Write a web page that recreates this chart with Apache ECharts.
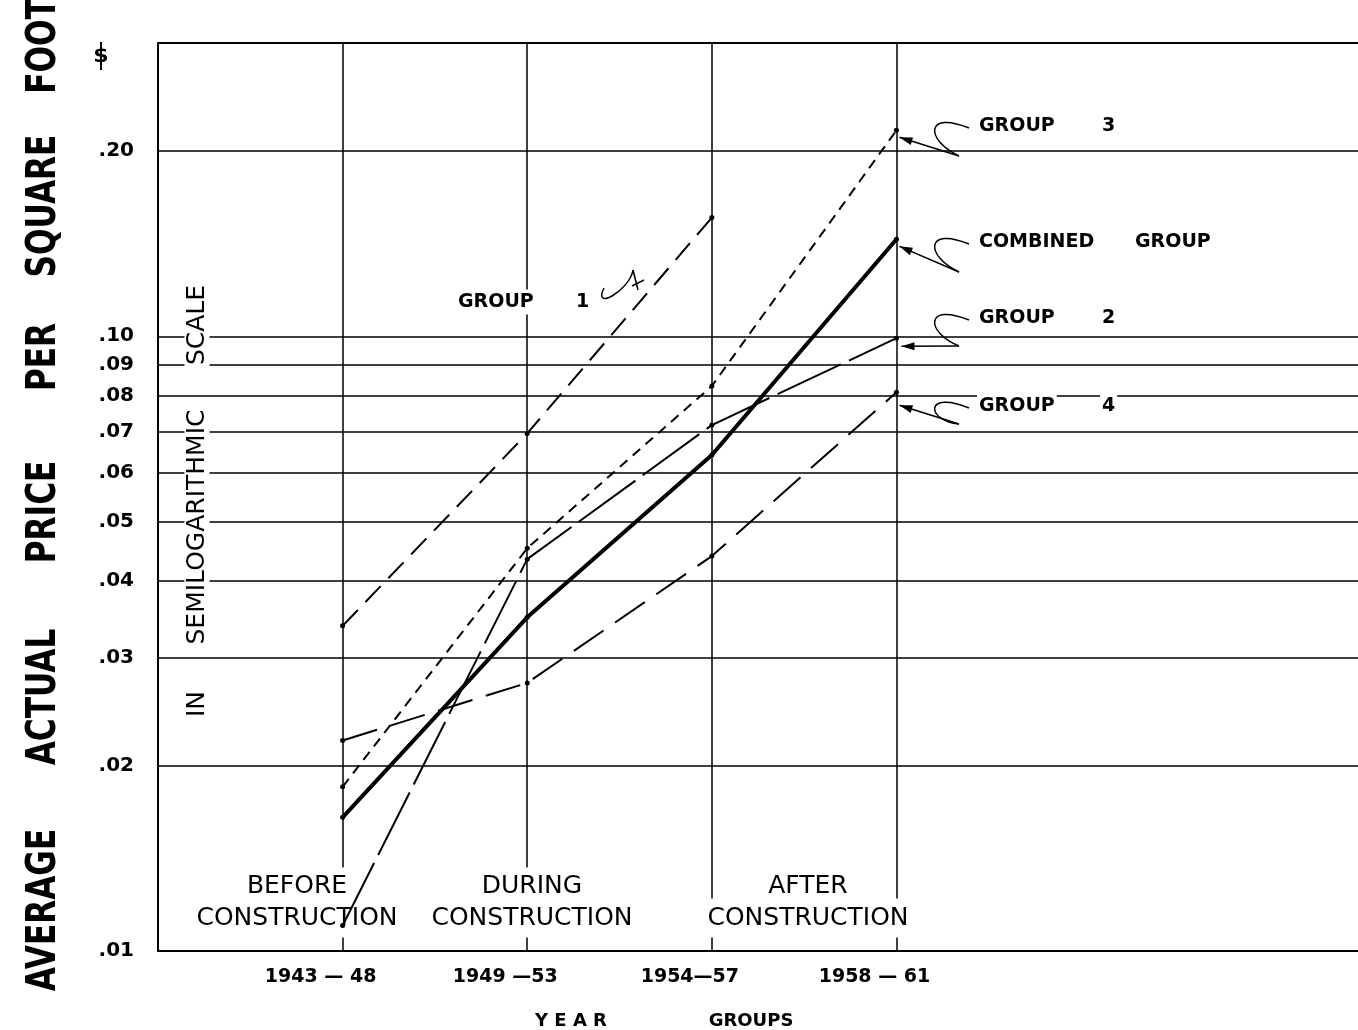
<!DOCTYPE html>
<html><head><meta charset="utf-8">
<script src="https://cdn.jsdelivr.net/npm/echarts/dist/echarts.min.js"></script>
<style>html,body{margin:0;padding:0;background:#fff}#c{width:1358px;height:1030px}</style>
</head><body><div id="c"></div>
<script>
// ---- data ----
const categories = ['1943 — 48', '1949 —53', '1954—57', '1958 — 61'];
const catPos = [1, 2, 3, 4];
const combined = [0.0165, 0.0349, 0.0641, 0.1438];
const group1 = [0.0338, 0.0695, 0.156];
const group2 = [0.0110, 0.0434, 0.0717, 0.0993];
const group3 = [0.0185, 0.0452, 0.0830, 0.2163];
const group4 = [0.0220, 0.0273, 0.0439, 0.0811];
const yTickValues = [0.01, 0.02, 0.03, 0.04, 0.05, 0.06, 0.07, 0.08, 0.09, 0.10, 0.20];
const yTickLabels = ['.01', '.02', '.03', '.04', '.05', '.06', '.07', '.08', '.09', '.10', '.20'];
const yMin = 0.01, yMax = 0.3;
const phaseLabels = [['BEFORE', 'CONSTRUCTION'], ['DURING', 'CONSTRUCTION'], ['AFTER', 'CONSTRUCTION']];
const yTitleWords = ['AVERAGE', 'ACTUAL', 'PRICE', 'PER', 'SQUARE', 'FOOT'];
const scaleNoteWords = ['IN', 'SEMILOGARITHMIC', 'SCALE'];

const pts = arr => arr.map((v, i) => [catPos[i], v]);
const chart = echarts.init(document.getElementById('c'), null, {renderer: 'canvas'});
const FONT = '"DejaVu Sans", "Liberation Sans", sans-serif';

function lineSeries(name, data, width, dash, z) {
  return {
    name, type: 'line', data: pts(data), z: z || 10,
    symbol: 'circle', symbolSize: 5, showSymbol: true,
    itemStyle: {color: '#000'},
    lineStyle: {color: '#000', width, type: dash},
    silent: true
  };
}

const hLines = yTickValues.map((v, i) => ({yAxis: v, label: {formatter: yTickLabels[i]}}));
hLines.push({yAxis: yMax, label: {show: false}, lineStyle: {width: 2}});
const vLines = catPos.map(p => ({xAxis: p, label: {show: false}}));

chart.setOption({
  animation: false,
  backgroundColor: '#fff',
  grid: {left: 158, right: 0, top: 43, bottom: 79},
  xAxis: {
    type: 'value', min: 0, max: 6.5, interval: 1,
    axisLine: {show: true, lineStyle: {color: '#000', width: 2}},
    axisTick: {show: false}, splitLine: {show: false},
    axisLabel: {
      show: true, margin: 17, color: '#000', fontFamily: FONT, fontWeight: 'bold', fontSize: 19,
      padding: [0, 44, 0, 0], showMaxLabel: false,
      formatter: v => { const i = catPos.indexOf(v); return i >= 0 ? categories[i] : ''; }
    }
  },
  yAxis: {
    type: 'log', logBase: 10, min: yMin, max: yMax,
    axisLine: {show: true, lineStyle: {color: '#000', width: 2}},
    axisTick: {show: false}, splitLine: {show: false}, axisLabel: {show: false}
  },
  series: [
    {
      type: 'line', data: [], z: 1, silent: true,
      markLine: {
        z: 1, silent: true, symbol: ['none', 'none'], animation: false,
        lineStyle: {color: '#000', width: 1.5, type: 'solid'},
        label: {position: 'start', distance: 24, color: '#000', fontFamily: FONT, fontWeight: 'bold', fontSize: 20},
        emphasis: {disabled: true},
        data: hLines
      }
    },
    {
      type: 'line', data: [], z: 1, silent: true,
      markLine: {
        z: 1, silent: true, symbol: ['none', 'none'], animation: false,
        lineStyle: {color: '#000', width: 1.5, type: 'solid'},
        emphasis: {disabled: true},
        data: vLines
      }
    },
    lineSeries('Group 1', group1, 2, [22, 11]),
    lineSeries('Group 2', group2, 2, [70, 9]),
    lineSeries('Group 3', group3, 2, [10, 7]),
    lineSeries('Group 4', group4, 2, [36, 14]),
    lineSeries('Combined Group', combined, 4, 'solid', 11)
  ]
});

// ---- annotations ----
const g = [];
function txt(text, x, y, opt) {
  opt = opt || {};
  const el = {
    type: 'text', x, y, z: 4, zlevel: 0,
    rotation: opt.rotation || 0, scaleX: opt.scaleX || 1, scaleY: opt.scaleY || 1,
    silent: true,
    style: {
      text, fill: '#000',
      font: (opt.weight || 'normal') + ' ' + (opt.size || 20) + 'px ' + FONT,
      textAlign: opt.align || 'center', align: opt.align || 'center',
      textVerticalAlign: 'middle', verticalAlign: 'middle'
    }
  };
  if (opt.bg) { el.style.backgroundColor = '#fff'; el.style.padding = opt.pad || [2, 4]; }
  g.push(el);
}

// y-axis title (rotated)
const yTitleCenters = [910, 697, 512, 357, 206, 46];
yTitleWords.forEach((w, i) => txt(w, 45, yTitleCenters[i], {rotation: Math.PI / 2, size: 40, weight: 'bold', scaleX: 0.78}));
// semilog note
const noteCenters = [704, 527, 325];
scaleNoteWords.forEach((w, i) => txt(w, 197, noteCenters[i], {rotation: Math.PI / 2, size: 25, bg: true, pad: [0, 6]}));
// dollar sign
txt('$', 101, 56, {size: 22, weight: 'bold'});
g.push({type: 'line', z: 4, silent: true, shape: {x1: 101, y1: 42, x2: 101, y2: 70}, style: {stroke: '#000', lineWidth: 2}});

// phase labels
const phaseX = [297, 532, 808];
phaseLabels.forEach((p, i) => {
  txt(p[0], phaseX[i], 886, {size: 25, bg: true, pad: [6, 2, 6, 2]});
  txt(p[1], phaseX[i], 918, {size: 25, bg: true, pad: [6, 2, 8, 2]});
});
// x-axis title
txt('Y E A R', 571, 1021, {size: 18, weight: 'bold'});
txt('GROUPS', 751, 1021, {size: 18, weight: 'bold'});

// group labels
function glabel(word, num, lx, ly, numX) {
  txt(word, lx, ly, {size: 19, weight: 'bold', align: 'left', bg: true, pad: [3, 2]});
  txt(num, numX, ly, {size: 19, weight: 'bold', align: 'left', bg: true, pad: [3, 2]});
}
glabel('GROUP', '3', 977, 126, 1100);
glabel('COMBINED', 'GROUP', 977, 242, 1133);
glabel('GROUP', '2', 977, 318, 1100);
glabel('GROUP', '4', 977, 406, 1100);
glabel('GROUP', '1', 456, 302, 574);

function arrowHead(tx, ty, fx, fy) {
  const dx = tx - fx, dy = ty - fy, L = Math.hypot(dx, dy);
  const ux = dx / L, uy = dy / L, nx = -uy, ny = ux;
  g.push({type: 'polygon', z: 5, silent: true,
    shape: {points: [[tx, ty], [tx - ux * 13 + nx * 4, ty - uy * 13 + ny * 4], [tx - ux * 13 - nx * 4, ty - uy * 13 - ny * 4]]},
    style: {fill: '#000'}});
}
function squiggle(lx, ly, tx, ty, drop) {
  const ax = lx - 8, ay = ly + 2;
  const bx = lx - 18, by = ly + (drop || 28);
  g.push({type: 'bezierCurve', z: 5, silent: true,
    shape: {x1: ax, y1: ay, cpx1: lx - 52, cpy1: ly - 16, cpx2: lx - 52, cpy2: ly + 14, x2: bx, y2: by},
    style: {stroke: '#000', lineWidth: 1.5, fill: null}});
  g.push({type: 'line', z: 5, silent: true, shape: {x1: bx, y1: by, x2: tx, y2: ty}, style: {stroke: '#000', lineWidth: 1.5}});
  arrowHead(tx, ty, bx, by);
}
const last = a => chart.convertToPixel({gridIndex: 0}, [catPos[a.length - 1], a[a.length - 1]]);
let p;
p = last(group3); squiggle(977, 126, p[0] + 3, p[1] + 7, 30);
p = last(combined); squiggle(977, 242, p[0] + 3, p[1] + 7, 30);
p = last(group2); squiggle(977, 318, p[0] + 5, p[1] + 8, 28);
p = last(group4); squiggle(977, 406, p[0] + 3, p[1] + 13, 18);

// group 1 pointer
g.push({type: 'bezierCurve', z: 5, silent: true,
  shape: {x1: 604, y1: 288, cpx1: 592, cpy1: 312, cpx2: 630, cpy2: 290, x2: 633, y2: 270},
  style: {stroke: '#000', lineWidth: 1.5, fill: null}});
g.push({type: 'line', z: 5, silent: true, shape: {x1: 633, y1: 270, x2: 638, y2: 290}, style: {stroke: '#000', lineWidth: 1.5}});
g.push({type: 'line', z: 5, silent: true, shape: {x1: 632, y1: 286, x2: 644, y2: 280}, style: {stroke: '#000', lineWidth: 1.5}});

chart.setOption({graphic: {elements: g}});
</script>
</body></html>
